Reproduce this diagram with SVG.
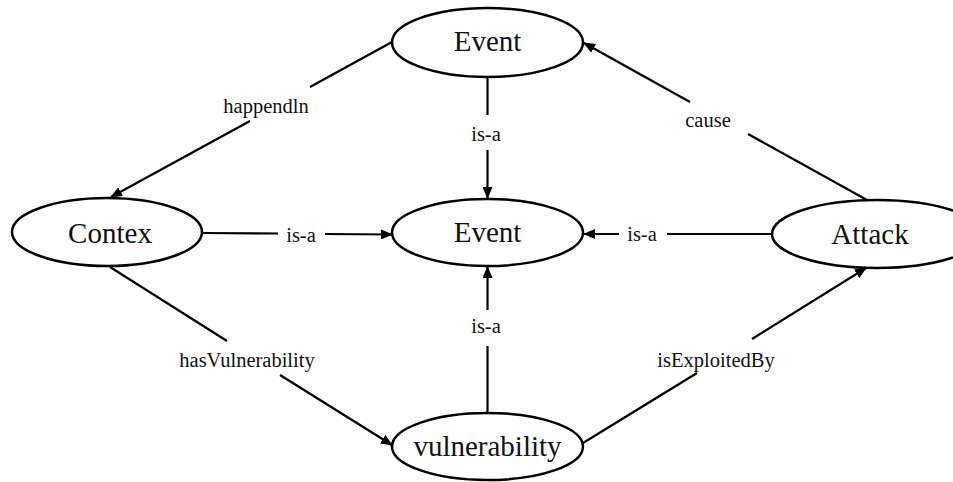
<svg xmlns="http://www.w3.org/2000/svg" width="953" height="482" viewBox="0 0 953 482">
<style>
.node ellipse{fill:#fff;stroke:#000;stroke-width:2.5}
.node text{font-family:"Liberation Serif","Times New Roman",serif;font-size:29px;fill:#111;text-anchor:middle}
.lbl{font-family:"Liberation Serif","Times New Roman",serif;font-size:20.5px;fill:#111;text-anchor:middle}
.edge{fill:none;stroke:#000;stroke-width:2.2}
</style>
<defs>
<marker id="arr" markerUnits="userSpaceOnUse" markerWidth="12" markerHeight="10" viewBox="0 0 12 10" refX="11" refY="5" orient="auto">
<path d="M0,0 L12,5 L0,10 Z" fill="#000"/>
</marker>
</defs>
<g id="connectors">
<path class="edge" d="M392,42 L310,87 M250,121 L111,197" marker-end="url(#arr)"/>
<path class="edge" d="M867,200 L748,134 M690,102 L584,43" marker-end="url(#arr)"/>
<path class="edge" d="M202,233 L278,233.5 M325,234 L392,234.5" marker-end="url(#arr)"/>
<path class="edge" d="M772,234 L667,234 M619,234 L584,234" marker-end="url(#arr)"/>
<path class="edge" d="M487.5,77 L487.5,115 M487.5,150 L487.5,198" marker-end="url(#arr)"/>
<path class="edge" d="M487.5,413 L487.5,346 M487.5,310 L487.5,267" marker-end="url(#arr)"/>
<path class="edge" d="M110,267 L227,341 M280,375 L392,445" marker-end="url(#arr)"/>
<path class="edge" d="M583,443 L697,373 M752,339 L866,268" marker-end="url(#arr)"/>
<text class="lbl" x="266" y="113">happendln</text>
<text class="lbl" x="708" y="127">cause</text>
<text class="lbl" x="301" y="242">is-a</text>
<text class="lbl" x="642" y="241">is-a</text>
<text class="lbl" x="486" y="141">is-a</text>
<text class="lbl" x="486" y="333">is-a</text>
<text class="lbl" x="247" y="367">hasVulnerability</text>
<text class="lbl" x="716" y="367">isExploitedBy</text>
</g>
<g id="event-top" class="node"><ellipse cx="487.5" cy="42.5" rx="95.5" ry="34.5"/><text x="487.5" y="51">Event</text></g>
<g id="contex" class="node"><ellipse cx="107" cy="232" rx="95" ry="34"/><text x="110" y="243">Contex</text></g>
<g id="event-center" class="node"><ellipse cx="487.5" cy="232.5" rx="95.5" ry="33.5"/><text x="487.5" y="242">Event</text></g>
<g id="attack" class="node"><ellipse cx="877" cy="234" rx="105" ry="34"/><text x="870" y="244">Attack</text></g>
<g id="vulnerability" class="node"><ellipse cx="487.5" cy="446.5" rx="95.5" ry="33.5"/><text x="487.5" y="456">vulnerability</text></g>
</svg>
